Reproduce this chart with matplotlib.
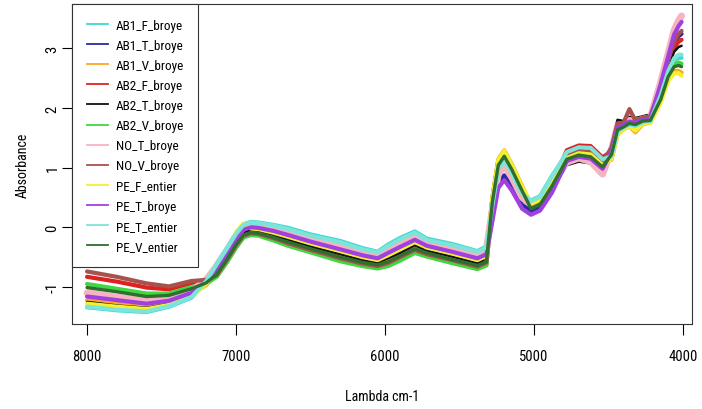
import matplotlib
matplotlib.use("Agg")
import matplotlib.pyplot as plt
from matplotlib.lines import Line2D
from matplotlib import font_manager

wavenumber = [8000, 7800, 7600, 7450, 7300, 7200, 7130, 7060, 7000, 6950,
              6900, 6850, 6750, 6650, 6500, 6300, 6150, 6050, 5980, 5900,
              5800, 5720, 5550, 5380, 5320, 5280, 5240, 5200, 5150, 5080,
              5020, 4960, 4880, 4780, 4700, 4620, 4540, 4480, 4440, 4400,
              4360, 4320, 4270, 4220, 4150, 4100, 4060, 4030, 4010]

AB1_F_broye = [-1.34, -1.39, -1.42, -1.33, -1.18, -0.90, -0.61, -0.34, -0.10, 0.05,
               0.09, 0.08, 0.04, -0.01, -0.12, -0.23, -0.35, -0.41, -0.29, -0.18,
               -0.07, -0.19, -0.28, -0.40, -0.32, 0.34, 0.95, 1.09, 0.88, 0.54,
               0.45, 0.52, 0.86, 1.23, 1.31, 1.30, 1.11, 1.20, 1.62, 1.68,
               1.73, 1.71, 1.77, 1.79, 2.19, 2.59, 2.80, 2.84, 2.84]
AB1_T_broye = [-1.13, -1.19, -1.25, -1.21, -1.08, -0.89, -0.67, -0.40, -0.16, -0.01,
               0.04, 0.03, -0.03, -0.09, -0.20, -0.32, -0.43, -0.48, -0.38, -0.28,
               -0.16, -0.27, -0.36, -0.48, -0.40, 0.16, 0.73, 0.87, 0.69, 0.37,
               0.27, 0.34, 0.65, 1.07, 1.13, 1.10, 0.93, 1.25, 1.66, 1.70,
               1.76, 1.74, 1.79, 1.81, 2.33, 2.77, 3.08, 3.20, 3.24]
AB1_V_broye = [-1.22, -1.28, -1.32, -1.26, -1.12, -0.97, -0.78, -0.52, -0.28, -0.12,
               -0.08, -0.09, -0.16, -0.24, -0.35, -0.49, -0.58, -0.62, -0.56, -0.47,
               -0.34, -0.42, -0.52, -0.63, -0.56, 0.50, 1.14, 1.29, 1.06, 0.69,
               0.37, 0.44, 0.76, 1.19, 1.27, 1.25, 1.07, 1.13, 1.55, 1.64,
               1.69, 1.59, 1.73, 1.75, 2.11, 2.47, 2.62, 2.62, 2.59]
AB2_F_broye = [-0.83, -0.91, -1.01, -1.04, -0.94, -0.91, -0.82, -0.57, -0.33, -0.16,
               -0.12, -0.13, -0.21, -0.30, -0.41, -0.55, -0.64, -0.68, -0.63, -0.54,
               -0.41, -0.48, -0.58, -0.69, -0.62, 0.40, 1.02, 1.17, 0.95, 0.60,
               0.33, 0.40, 0.72, 1.29, 1.37, 1.36, 1.17, 1.28, 1.69, 1.72,
               1.78, 1.76, 1.80, 1.83, 2.29, 2.73, 3.01, 3.11, 3.14]
AB2_T_broye = [-1.25, -1.31, -1.35, -1.28, -1.14, -0.96, -0.75, -0.50, -0.26, -0.09,
               -0.05, -0.06, -0.13, -0.21, -0.32, -0.45, -0.55, -0.59, -0.52, -0.43,
               -0.30, -0.39, -0.49, -0.60, -0.53, 0.26, 0.85, 0.99, 0.80, 0.46,
               0.32, 0.39, 0.71, 1.04, 1.10, 1.07, 0.90, 1.40, 1.80, 1.78,
               1.85, 1.83, 1.86, 1.89, 2.26, 2.68, 2.94, 3.02, 3.04]
AB2_V_broye = [-0.95, -1.03, -1.11, -1.11, -1.00, -0.94, -0.83, -0.58, -0.34, -0.17,
               -0.13, -0.14, -0.22, -0.31, -0.42, -0.57, -0.65, -0.69, -0.65, -0.56,
               -0.43, -0.49, -0.60, -0.70, -0.64, 0.46, 1.09, 1.24, 1.02, 0.65,
               0.35, 0.42, 0.75, 1.18, 1.25, 1.23, 1.05, 1.18, 1.59, 1.66,
               1.72, 1.70, 1.76, 1.77, 2.16, 2.54, 2.72, 2.76, 2.74]
NO_T_broye = [-1.10, -1.17, -1.23, -1.19, -1.07, -0.88, -0.65, -0.39, -0.15, 0.01,
              0.05, 0.04, -0.01, -0.07, -0.18, -0.30, -0.41, -0.47, -0.36, -0.26,
              -0.14, -0.25, -0.34, -0.46, -0.38, 0.30, 0.90, 1.04, 0.84, 0.50,
              0.38, 0.45, 0.78, 1.09, 1.16, 1.10, 0.89, 1.30, 1.70, 1.72,
              1.79, 1.77, 1.81, 1.83, 2.43, 2.91, 3.30, 3.46, 3.54]
NO_V_broye = [-0.74, -0.83, -0.94, -0.99, -0.90, -0.88, -0.80, -0.54, -0.30, -0.14,
              -0.10, -0.11, -0.18, -0.27, -0.38, -0.52, -0.61, -0.65, -0.60, -0.50,
              -0.38, -0.45, -0.55, -0.66, -0.59, 0.48, 1.12, 1.27, 1.04, 0.67,
              0.34, 0.41, 0.73, 1.21, 1.28, 1.26, 1.08, 1.34, 1.74, 1.75,
              1.98, 1.79, 1.83, 1.86, 2.35, 2.80, 3.12, 3.24, 3.29]
PE_F_entier = [-1.28, -1.33, -1.37, -1.30, -1.15, -0.95, -0.72, -0.46, -0.08, 0.06,
               -0.02, -0.03, -0.09, -0.16, -0.27, -0.40, -0.50, -0.55, -0.47, -0.37,
               -0.25, -0.34, -0.44, -0.55, -0.48, 0.49, 1.13, 1.28, 1.05, 0.68,
               0.39, 0.46, 0.79, 1.16, 1.24, 1.22, 1.04, 1.15, 1.56, 1.64,
               1.70, 1.62, 1.74, 1.75, 2.09, 2.45, 2.58, 2.58, 2.54]
PE_T_broye = [-1.16, -1.22, -1.28, -1.23, -1.10, -0.91, -0.70, -0.44, -0.20, -0.04,
              0.00, -0.01, -0.06, -0.13, -0.24, -0.37, -0.47, -0.52, -0.43, -0.33,
              -0.21, -0.31, -0.41, -0.52, -0.45, 0.10, 0.66, 0.79, 0.62, 0.31,
              0.21, 0.28, 0.58, 1.11, 1.18, 1.15, 0.98, 1.27, 1.67, 1.71,
              1.77, 1.75, 1.80, 1.82, 2.40, 2.86, 3.23, 3.37, 3.44]
PE_T_entier = [-1.33, -1.38, -1.41, -1.32, -1.17, -0.90, -0.62, -0.35, -0.11, 0.04,
               0.08, 0.07, 0.03, -0.03, -0.14, -0.25, -0.37, -0.42, -0.31, -0.20,
               -0.09, -0.21, -0.30, -0.41, -0.34, 0.36, 0.97, 1.12, 0.91, 0.56,
               0.44, 0.51, 0.85, 1.26, 1.34, 1.33, 1.14, 1.19, 1.60, 1.67,
               1.72, 1.70, 1.76, 1.78, 2.21, 2.61, 2.83, 2.89, 2.89]
PE_V_entier = [-1.01, -1.08, -1.16, -1.14, -1.03, -0.93, -0.79, -0.53, -0.29, -0.13,
               -0.09, -0.10, -0.17, -0.25, -0.36, -0.50, -0.59, -0.63, -0.58, -0.48,
               -0.36, -0.43, -0.54, -0.64, -0.58, 0.42, 1.04, 1.19, 0.97, 0.61,
               0.31, 0.38, 0.69, 1.14, 1.21, 1.18, 1.01, 1.22, 1.63, 1.68,
               1.74, 1.72, 1.78, 1.79, 2.14, 2.52, 2.69, 2.71, 2.69]

labels = ["AB1_F_broye", "AB1_T_broye", "AB1_V_broye", "AB2_F_broye",
          "AB2_T_broye", "AB2_V_broye", "NO_T_broye", "NO_V_broye",
          "PE_F_entier", "PE_T_broye", "PE_T_entier", "PE_V_entier"]
series = [AB1_F_broye, AB1_T_broye, AB1_V_broye, AB2_F_broye, AB2_T_broye,
          AB2_V_broye, NO_T_broye, NO_V_broye, PE_F_entier, PE_T_broye,
          PE_T_entier, PE_V_entier]
colors = ["#3CD8D4", "#2B2BA0", "#FFA820", "#DD2222", "#111111", "#40D840",
          "#F6B4C0", "#A8524E", "#F4F030", "#A040E0", "#7CE4D8", "#2E6E2E"]
widths = [3.0, 3.0, 3.0, 3.0, 1.8, 3.0, 5.0, 3.0, 3.0, 3.0, 3.0, 2.4]

x_ticks = [8000, 7000, 6000, 5000, 4000]
y_ticks = [-1, 0, 1, 2, 3]

available = {f.name for f in font_manager.fontManager.ttflist}
fam = "Liberation Sans"
for cand in ["Liberation Sans Narrow", "Roboto Condensed", "Open Sans Condensed",
             "DejaVu Sans Condensed"]:
    if cand in available:
        fam = cand
        break
plt.rcParams['font.family'] = [fam, 'DejaVu Sans']

fig = plt.figure(figsize=(7.02, 4.10), dpi=100)
ax = fig.add_axes([72/702, 1-325/410, 620/702, 320/410])

for vals, c, w in zip(series, colors, widths):
    ax.plot(wavenumber, vals, color=c, lw=w, solid_capstyle='round', solid_joinstyle='round')

ax.set_xlim(8101, 3940)
ax.set_ylim(-1.62, 3.74)
ax.set_xticks(x_ticks)
ax.set_xticklabels([str(v) for v in x_ticks])
ax.set_yticks(y_ticks)
ax.set_yticklabels([str(v) for v in y_ticks], rotation=90, va='center')
ax.tick_params(axis='x', length=8, width=0.8, pad=10, labelsize=10.5)
ax.tick_params(axis='y', length=7, width=0.8, pad=2, labelsize=10.5)
for sp in ax.spines.values():
    sp.set_linewidth(0.8)
    sp.set_color('#333333')

ax.set_xlabel("Lambda cm-1", fontsize=10)
ax.set_ylabel("Absorbance", fontsize=10)
ax.xaxis.set_label_coords(0.5, (325-397)/320)
ax.xaxis.label.set_va('center')
ax.yaxis.set_label_coords((23-72)/620, 0.5)
ax.yaxis.label.set_va('center')

handles = [Line2D([], [], color=c, lw=1.3) for c in colors]
leg = ax.legend(handles, labels, loc='upper left', bbox_to_anchor=(0, 1),
                borderaxespad=0, fancybox=False, edgecolor='#333333', framealpha=1,
                handlelength=1.6, handletextpad=0.6, labelspacing=0.54,
                borderpad=1.1, fontsize=9.5)
leg.get_frame().set_linewidth(0.8)

fig.savefig("out.png", dpi=100)
